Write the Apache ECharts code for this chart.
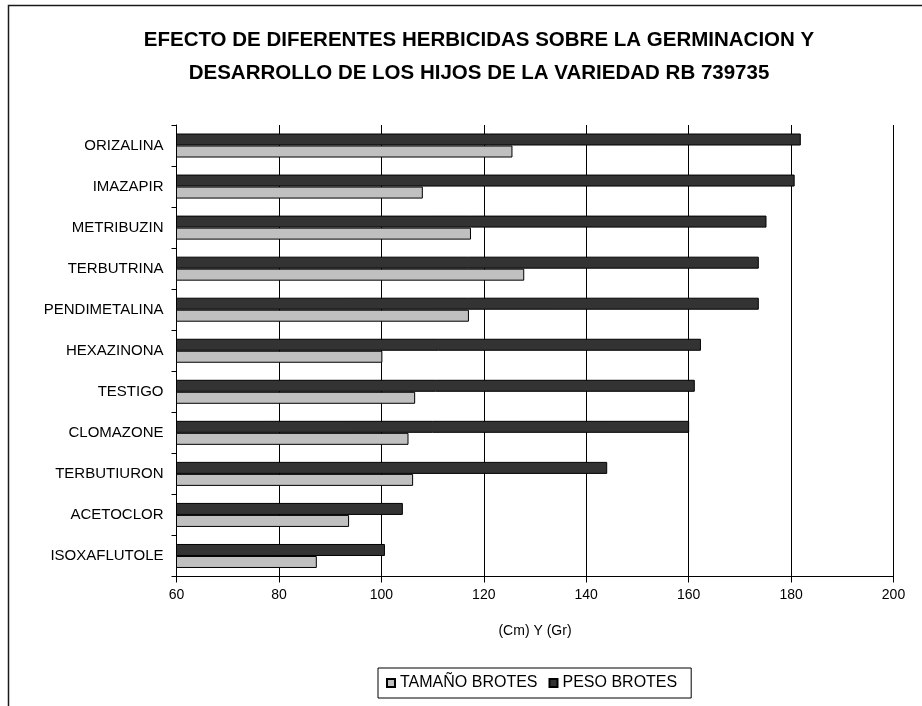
<!DOCTYPE html>
<html>
<head>
<meta charset="utf-8">
<script src="https://cdn.jsdelivr.net/npm/echarts@6/dist/echarts.min.js"></script>
<style>
  html, body { margin: 0; padding: 0; background: #fff; }
  #chart { width: 922px; height: 706px; }
</style>
</head>
<body>
<div id="chart"></div>
<script>
// Herbicides, listed top to bottom
const categories = [
  'ORIZALINA', 'IMAZAPIR', 'METRIBUZIN', 'TERBUTRINA', 'PENDIMETALINA',
  'HEXAZINONA', 'TESTIGO', 'CLOMAZONE', 'TERBUTIURON', 'ACETOCLOR', 'ISOXAFLUTOLE'
];
// Shoot weight (Gr)
const pesoBrotes = [181.9, 180.7, 175.2, 173.7, 173.7, 162.4, 161.2, 160.1, 144.1, 104.2, 100.7];
// Shoot size (Cm)
const tamanoBrotes = [125.6, 108.1, 117.5, 127.9, 117.1, 100.2, 106.6, 105.3, 106.2, 93.7, 87.4];
// Value axis ticks
const xTicks = [60, 80, 100, 120, 140, 160, 180, 200];

const titleLines = [
  'EFECTO DE DIFERENTES HERBICIDAS SOBRE LA GERMINACION Y',
  'DESARROLLO DE LOS HIJOS DE LA VARIEDAD RB 739735'
];
const seriesNames = ['TAMAÑO BROTES', 'PESO BROTES'];

const FONT = '"Liberation Sans", Arial, sans-serif';
const chart = echarts.init(document.getElementById('chart'), null, { renderer: 'canvas' });

const barBase = { type: 'bar', barWidth: 12, barGap: '0%', animation: false };

chart.setOption({
  backgroundColor: '#ffffff',
  textStyle: { fontFamily: FONT },
  graphic: [
    {
      type: 'polyline',
      shape: { points: [[8.5, 706], [8.5, 5.5], [922, 5.5]] },
      style: { stroke: '#1a1a1a', lineWidth: 1.5, fill: null },
      silent: true
    },
    {
      type: 'text',
      x: 479, y: 24,
      style: {
        text: titleLines.join('\n'),
        font: 'bold 20.5px ' + FONT,
        fill: '#000',
        align: 'center',
        verticalAlign: 'top',
        lineHeight: 33
      },
      silent: true
    }
  ],
  grid: { left: 176.5, right: 28.5, top: 125, bottom: 129.5, containLabel: false },
  legend: {
    data: seriesNames,
    left: 378, top: 668,
    orient: 'horizontal',
    padding: [7, 14, 7, 8],
    itemWidth: 8, itemHeight: 8, itemGap: 11,
    icon: 'rect',
    borderColor: '#000', borderWidth: 1,
    textStyle: { fontFamily: FONT, fontSize: 16, color: '#000', padding: [0, 0, 0, 0] }
  },
  xAxis: {
    type: 'value',
    min: xTicks[0], max: xTicks[xTicks.length - 1], interval: 20,
    name: '(Cm) Y (Gr)',
    nameLocation: 'middle', nameGap: 48,
    nameTextStyle: { fontFamily: FONT, fontSize: 14, color: '#000' },
    axisLine: { show: true, lineStyle: { color: '#000', width: 1 } },
    axisTick: { show: true, length: 6, lineStyle: { color: '#000' } },
    axisLabel: { fontFamily: FONT, fontSize: 14, color: '#000', margin: 12 },
    splitLine: { show: true, lineStyle: { color: '#000', width: 1 } }
  },
  yAxis: {
    type: 'category',
    data: categories,
    inverse: true,
    axisLine: { show: true, lineStyle: { color: '#000', width: 1 } },
    axisTick: { show: true, length: 5, lineStyle: { color: '#000' } },
    axisLabel: { fontFamily: FONT, fontSize: 15, color: '#000', margin: 13 }
  },
  series: [
    Object.assign({}, barBase, {
      name: seriesNames[1],
      data: pesoBrotes,
      itemStyle: { color: '#333333', borderColor: '#000', borderWidth: 1 }
    }),
    Object.assign({}, barBase, {
      name: seriesNames[0],
      data: tamanoBrotes,
      itemStyle: { color: '#c0c0c0', borderColor: '#000', borderWidth: 1 }
    })
  ]
});
</script>
</body>
</html>
